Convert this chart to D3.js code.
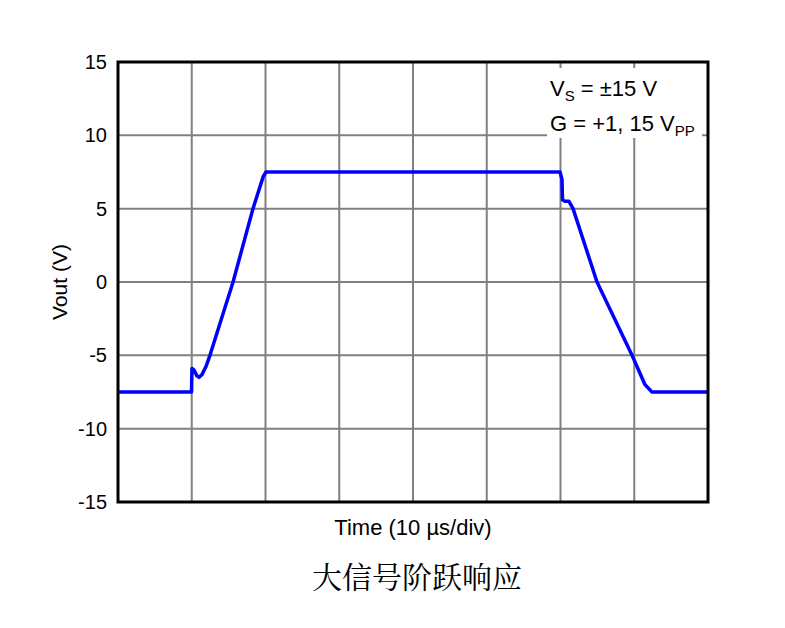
<!DOCTYPE html>
<html>
<head>
<meta charset="utf-8">
<script src="https://cdn.jsdelivr.net/npm/d3@7"></script>
<style>
body { margin: 0; background: #fff; }
svg { display: block; }
</style>
</head>
<body>
<svg id="chart" width="785" height="628"></svg>
<script>
// waveform, time in µs, voltage in V
var timeUs = [0, 9.97, 10.03, 10.3, 10.7, 11.0, 11.4, 11.9, 12.47, 15.6, 18.3, 19.7, 20.07,
	59.93, 60.2, 60.27, 60.6, 61.15, 61.7, 64.95, 69.7, 71.46, 72.4, 80];
var vout = [-7.5, -7.5, -5.9, -6.0, -6.4, -6.5, -6.3, -5.8, -5.0, 0, 5, 7.2, 7.5,
	7.5, 7.0, 5.6, 5.5, 5.5, 5.0, 0, -5, -7.0, -7.5, -7.5];
var yTicks = [-15, -10, -5, 0, 5, 10, 15];
var xGrid = [0, 10, 20, 30, 40, 50, 60, 70, 80];

var svg = d3.select('#chart');
var plotL = 118, plotR = 708, plotT = 62, plotB = 502;

var x = d3.scaleLinear().domain([0, 80]).range([plotL, plotR]);
var y = d3.scaleLinear().domain([-15, 15]).range([plotB, plotT]);

var font = '"Liberation Sans", Arial, sans-serif';

// grid
svg.append('g')
	.selectAll('line')
		.data(xGrid.slice(1, -1))
	.enter()
		.append('line')
		.attr('x1', function (d) { return x(d); })
		.attr('x2', function (d) { return x(d); })
		.attr('y1', plotT)
		.attr('y2', plotB)
		.attr('stroke', '#808080')
		.attr('stroke-width', 2);

svg.append('g')
	.selectAll('line')
		.data(yTicks.slice(1, -1))
	.enter()
		.append('line')
		.attr('x1', plotL)
		.attr('x2', plotR)
		.attr('y1', function (d) { return y(d); })
		.attr('y2', function (d) { return y(d); })
		.attr('stroke', '#808080')
		.attr('stroke-width', 2);

// y axis tick labels (plain hyphen, like the original)
var yAxis = d3.axisLeft(y).tickValues(yTicks).tickSize(0).tickPadding(11)
	.tickFormat(function (d) { return String(d); });
var ga = svg.append('g').attr('transform', 'translate(' + plotL + ',0)').call(yAxis);
ga.select('.domain').remove();
ga.selectAll('text')
	.attr('font-family', font)
	.attr('font-size', 20)
	.attr('fill', '#000');

// annotation box
svg.append('rect')
	.attr('x', 547).attr('y', 68)
	.attr('width', 155).attr('height', 70)
	.attr('fill', '#fff');

var t1 = svg.append('text')
	.attr('x', 550).attr('y', 96)
	.attr('font-family', font).attr('font-size', 22);
t1.append('tspan').text('V');
t1.append('tspan').attr('font-size', 15).attr('dy', 5).text('S');
t1.append('tspan').attr('dy', -5).text(' = ±15 V');

var t2 = svg.append('text')
	.attr('x', 550).attr('y', 131)
	.attr('font-family', font).attr('font-size', 22);
t2.append('tspan').text('G = +1, 15 V');
t2.append('tspan').attr('font-size', 15).attr('dy', 5).text('PP');

// waveform
var line = d3.line()
	.x(function (d, i) { return x(timeUs[i]); })
	.y(function (d) { return y(d); });

svg.append('path')
	.datum(vout)
	.attr('d', line)
	.attr('fill', 'none')
	.attr('stroke', '#0000ff')
	.attr('stroke-width', 3.5)
	.attr('stroke-linejoin', 'round');

// frame
svg.append('rect')
	.attr('x', plotL).attr('y', plotT)
	.attr('width', plotR - plotL).attr('height', plotB - plotT)
	.attr('fill', 'none')
	.attr('stroke', '#000')
	.attr('stroke-width', 3);

// axis titles
svg.append('text')
	.attr('x', (plotL + plotR) / 2).attr('y', 535)
	.attr('text-anchor', 'middle')
	.attr('font-family', font).attr('font-size', 22)
	.text('Time (10 µs/div)');

svg.append('text')
	.attr('transform', 'translate(67,' + ((plotT + plotB) / 2) + ') rotate(-90)')
	.attr('text-anchor', 'middle')
	.attr('font-family', font).attr('font-size', 21)
	.text('Vout (V)');

svg.append('text')
	.attr('x', (plotL + plotR) / 2 + 4).attr('y', 588)
	.attr('text-anchor', 'middle')
	.attr('font-family', '"Noto Serif CJK SC", "Noto Sans CJK SC", serif')
	.attr('font-size', 30)
	.text('大信号阶跃响应');
</script>
</body>
</html>
